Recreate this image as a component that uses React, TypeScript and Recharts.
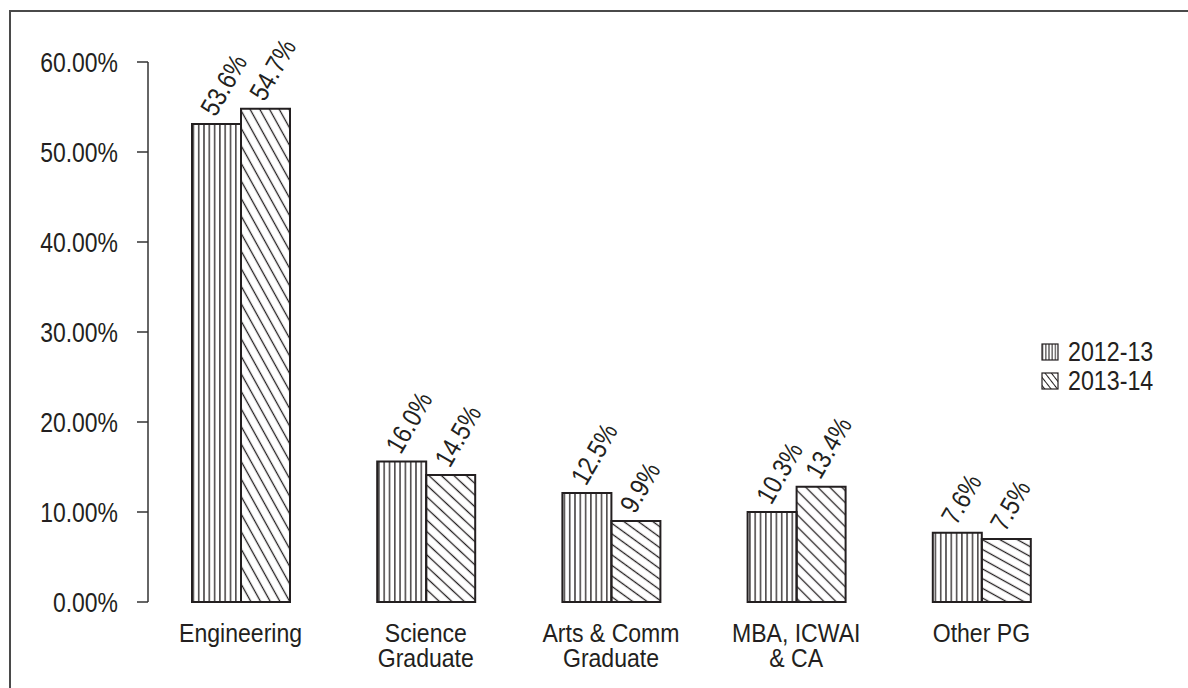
import React from "react";
import { BarChart, Bar, XAxis, YAxis, Cell, Legend } from "recharts";

const categories = ["Engineering", "Science\nGraduate", "Arts & Comm\nGraduate", "MBA, ICWAI\n& CA", "Other PG"];
const values2012 = [53.1, 15.6, 12.1, 10.0, 7.7];
const values2013 = [54.8, 14.1, 9.0, 12.8, 7.0];
const labels2012 = ["53.6%", "16.0%", "12.5%", "10.3%", "7.6%"];
const labels2013 = ["54.7%", "14.5%", "9.9%", "13.4%", "7.5%"];
const diagAngles = [61, 43, 36, 45, 29];
const yTicks = [0, 10, 20, 30, 40, 50, 60];
const edgeTicks = [0, 1, 2, 3, 4, 5];
const seriesNames = ["2012-13", "2013-14"];

const data = categories.map((c, i) => ({ name: c, a: values2012[i], b: values2013[i] }));

const FONT = "'Liberation Sans', Arial, sans-serif";
const INK = "#231f20";

const YTick = (props: any) => {
  const { x, y, payload } = props;
  return (
    <text
      transform={`translate(${x},${y}) scale(0.82,1)`}
      x={0}
      y={0}
      dy="0.355em"
      textAnchor="end"
      fontFamily={FONT}
      fontSize={28}
      fill={INK}
    >
      {`${Number(payload.value).toFixed(2)}%`}
    </text>
  );
};

const CatTick = (props: any) => {
  const { x, y, payload } = props;
  const lines = String(payload.value).split("\n");
  return (
    <text
      transform={`translate(${x},${y}) scale(0.87,1)`}
      x={0}
      y={0}
      textAnchor="middle"
      fontFamily={FONT}
      fontSize={26.5}
      fill={INK}
    >
      {lines.map((l, i) => (
        <tspan key={i} x={0} dy={i === 0 ? 40 : 25.5}>{l}</tspan>
      ))}
    </text>
  );
};

const makeLabel = (labels: string[]) => (props: any) => {
  const { x, y, width, index } = props;
  const cx = x + width / 2;
  return (
    <text
      transform={`translate(${cx},${y}) rotate(-60) translate(5,-4) scale(0.85,1)`}
      x={0}
      y={0}
      textAnchor="start"
      fontFamily={FONT}
      fontSize={27}
      fill={INK}
    >
      {labels[index]}
    </text>
  );
};

const LegendContent = () => (
  <div style={{ fontFamily: FONT, fontSize: 28, color: INK, lineHeight: "28px" }}>
    {seriesNames.map((n, i) => (
      <div key={n} style={{ display: "flex", alignItems: "center", height: 28.5 }}>
        <svg width={18} height={18} style={{ marginRight: 9, flex: "none" }}>
          <defs>
            <pattern id={`lv${i}`} patternUnits="userSpaceOnUse" width={3.2} height={10}>
              <line x1={1.6} y1={0} x2={1.6} y2={10} stroke={INK} strokeWidth={1} />
            </pattern>
            <pattern id={`ld${i}`} patternUnits="userSpaceOnUse" width={10} height={5} patternTransform="rotate(52)">
              <line x1={0} y1={2.5} x2={10} y2={2.5} stroke={INK} strokeWidth={1} />
            </pattern>
          </defs>
          <rect x={1} y={1} width={16} height={16} fill={i === 0 ? `url(#lv${i})` : `url(#ld${i})`} stroke={INK} strokeWidth={1.2} />
        </svg>
        <span style={{ display: "inline-block", transform: "scaleX(0.83)", transformOrigin: "left center", whiteSpace: "nowrap" }}>{n}</span>
      </div>
    ))}
  </div>
);

export default function App() {
  return (
    <div style={{ position: "absolute", left: 0, top: 0, width: 1188, height: 688, background: "#fff", overflow: "hidden" }}>
      <div
        style={{
          position: "absolute",
          left: 9,
          top: 10,
          width: 1200,
          height: 700,
          borderLeft: "2px solid #4a4a4a",
          borderTop: "2px solid #4a4a4a",
        }}
      />
      <div style={{ position: "absolute", left: 0, top: 0 }}>
        <BarChart
          width={1188}
          height={688}
          data={data}
          margin={{ top: 62, right: 114, bottom: 0, left: 0 }}
          barGap={0}
          barSize={49}
        >
          <defs>
            <pattern id="vstripe" patternUnits="userSpaceOnUse" width={5.3} height={10}>
              <line x1={2.6} y1={0} x2={2.6} y2={10} stroke={INK} strokeWidth={1.3} />
            </pattern>
            {diagAngles.map((a, i) => (
              <pattern key={i} id={`diag${i}`} patternUnits="userSpaceOnUse" width={20} height={8.5} patternTransform={`rotate(${a})`}>
                <line x1={0} y1={4.25} x2={20} y2={4.25} stroke={INK} strokeWidth={1.3} />
              </pattern>
            ))}
          </defs>
          <XAxis
            xAxisId="edges"
            type="number"
            domain={[0, 5]}
            ticks={edgeTicks}
            tick={false}
            tickSize={10}
            height={0}
            axisLine={{ stroke: "#333", strokeWidth: 1.5 }}
            tickLine={{ stroke: "#333", strokeWidth: 1.5 }}
            allowDataOverflow
          />
          <XAxis
            xAxisId="cat"
            dataKey="name"
            axisLine={false}
            tickLine={false}
            tickSize={0}
            tickMargin={0}
            height={86}
            interval={0}
            tick={<CatTick />}
          />
          <YAxis
            width={148}
            domain={[0, 60]}
            ticks={yTicks}
            tickSize={11}
            tickMargin={19}
            axisLine={{ stroke: "#333", strokeWidth: 1.5 }}
            tickLine={{ stroke: "#333", strokeWidth: 1.5 }}
            tick={<YTick />}
          />
          <Legend
            layout="horizontal"
            verticalAlign="middle"
            align="center"
            content={<LegendContent />}
            wrapperStyle={{ left: 1041, top: 338, width: 140, height: 60 }}
          />
          <Bar
            xAxisId="cat"
            dataKey="a"
            name={seriesNames[0]}
            fill="url(#vstripe)"
            stroke={INK}
            strokeWidth={2}
            isAnimationActive={false}
            label={makeLabel(labels2012)}
          />
          <Bar
            xAxisId="cat"
            dataKey="b"
            name={seriesNames[1]}
            stroke={INK}
            strokeWidth={2}
            isAnimationActive={false}
            label={makeLabel(labels2013)}
          >
            {data.map((_, i) => (
              <Cell key={i} fill={`url(#diag${i})`} />
            ))}
          </Bar>
        </BarChart>
      </div>
    </div>
  );
}
